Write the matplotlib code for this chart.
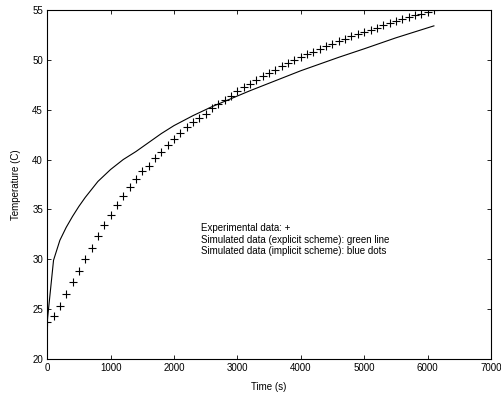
import matplotlib
matplotlib.use("Agg")
import matplotlib.pyplot as plt
import numpy as np

plt.rcParams["font.family"] = ["Liberation Sans", "DejaVu Sans"]

# ── Datos ─────────────────────────────────────────────────────────────────────
# Datos experimentales (cada 100 s)
t_exp = np.arange(0, 6200, 100)
T_exp = [
    23.7, 24.3, 25.3, 26.5, 27.7, 28.85, 30.0, 31.1, 32.3, 33.4,
    34.4, 35.4, 36.3, 37.2, 38.0, 38.8, 39.4, 40.2, 40.8, 41.5,
    42.1, 42.7, 43.3, 43.8, 44.2, 44.6, 45.2, 45.6, 46.0, 46.4,
    46.9, 47.3, 47.6, 48.0, 48.35, 48.7, 49.0, 49.35, 49.65, 49.95,
    50.25, 50.55, 50.8, 51.1, 51.35, 51.6, 51.85, 52.1, 52.35, 52.55,
    52.8, 53.0, 53.2, 53.45, 53.65, 53.85, 54.05, 54.25, 54.45, 54.6,
    54.8, 55.0,
]

# Simulación
t_sim = [0, 100, 200, 300, 400, 500, 600, 800, 1000, 1200, 1400, 1600,
         1800, 2000, 2300, 2600, 2900, 3200, 3600, 4000, 4600, 5000, 5500, 6100]
T_sim = [23.7, 29.9, 31.9, 33.2, 34.3, 35.3, 36.2, 37.8, 39.0, 40.0, 40.8, 41.7,
         42.6, 43.4, 44.4, 45.3, 46.1, 46.9, 47.9, 48.9, 50.25, 51.1, 52.2, 53.4]

texto = [
    "Experimental data: +",
    "Simulated data (explicit scheme): green line",
    "Simulated data (implicit scheme): blue dots",
]

# ── Figura ────────────────────────────────────────────────────────────────────
fig = plt.figure(figsize=(5.02, 3.96), dpi=100)
ax = fig.add_axes([0.094, 0.0934, 0.884, 0.8816])

ax.plot(t_sim, T_sim, color="black", linewidth=0.8)
ax.plot(t_exp, T_exp, linestyle="none", marker="+", color="black",
        markersize=5.5, markeredgewidth=0.8)

ax.set_xlim(0, 7000)
ax.set_ylim(20, 55)
ax.set_xticks(range(0, 7001, 1000))
ax.set_yticks(range(20, 56, 5))
ax.tick_params(direction="in", top=True, right=True, length=3,
               width=0.6, labelsize=7, pad=3)
for s in ax.spines.values():
    s.set_linewidth(0.8)

ax.set_xlabel("Time (s)", fontsize=7, labelpad=6)
ax.set_ylabel("Temperature (C)", fontsize=7, labelpad=8)

ax.text(2420, 33.6, "\n".join(texto), fontsize=7, va="top", ha="left",
        linespacing=1.15)

fig.savefig("out.png", dpi=100)
